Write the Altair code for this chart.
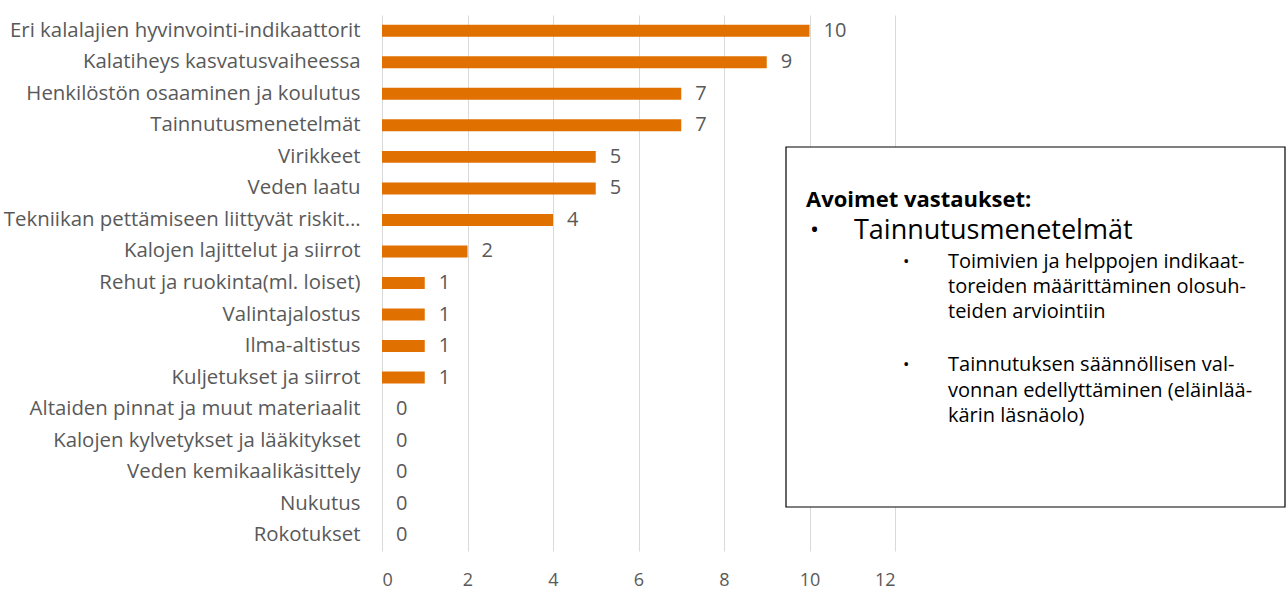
import altair as alt
import pandas as pd

SP = "\u00a0"
categories = [
    "Eri kalalajien hyvinvointi-indikaattorit",
    "Kalatiheys kasvatusvaiheessa",
    "Henkilöstön osaaminen ja koulutus",
    "Tainnutusmenetelmät",
    "Virikkeet" + SP,
    "Veden laatu",
    "Tekniikan pettämiseen liittyvät riskit…",
    "Kalojen lajittelut ja siirrot",
    "Rehut ja ruokinta(ml. loiset)",
    "Valintajalostus" + SP,
    "Ilma-altistus" + SP,
    "Kuljetukset ja siirrot",
    "Altaiden pinnat ja muut materiaalit",
    "Kalojen kylvetykset ja lääkitykset",
    "Veden kemikaalikäsittely",
    "Nukutus" + SP,
    "Rokotukset" + SP + SP,
]
values = [10, 9, 7, 7, 5, 5, 4, 2, 1, 1, 1, 1, 0, 0, 0, 0, 0]
x_ticks = [0, 2, 4, 6, 8, 10, 12]

# (text, x offset from box left, page y, font size, weight)
box_lines = [
    ("Avoimet vastaukset:", 20, 200, 22, "bold"),
    ("•", 24, 231, 24, "normal"),
    ("Tainnutusmenetelmät", 68, 231, 27, "normal"),
    ("•", 117, 262, 17, "normal"),
    ("Toimivien ja helppojen indikaat-", 162, 262, 20, "normal"),
    ("toreiden määrittäminen olosuh-", 162, 287, 20, "normal"),
    ("teiden arviointiin", 162, 312, 20, "normal"),
    ("•", 117, 365, 17, "normal"),
    ("Tainnutuksen säännöllisen val-", 162, 365, 20, "normal"),
    ("vonnan edellyttäminen (eläinlää-", 162, 391, 20, "normal"),
    ("kärin läsnäolo)", 162, 416, 20, "normal"),
]

df = pd.DataFrame({"cat": categories, "val": values})

FONT = "Open Sans"
W, H = 513, 536
LEFT, TOP = 382, 15
BOX_L, BOX_T, BOX_R, BOX_B = 786, 147, 1285, 507

y_enc = alt.Y("cat:N", sort=categories, title=None,
              scale=alt.Scale(paddingInner=0.62, paddingOuter=0.31),
              axis=alt.Axis(labelFont=FONT, labelFontSize=20.4, labelColor="#595959",
                            labelLimit=400, labelPadding=22, ticks=False, domain=False))
x_enc = alt.X("val:Q", title=None,
              scale=alt.Scale(domain=[0, 12], nice=False),
              axis=alt.Axis(values=x_ticks, labelFont=FONT, labelFontSize=18,
                            labelColor="#595959", labelPadding=20, ticks=False,
                            domain=False, grid=True, gridColor="#d9d9d9", gridWidth=1))

bars = alt.Chart(df).mark_bar(color="#E07000").encode(x=x_enc, y=y_enc)
labels = alt.Chart(df).mark_text(align="left", baseline="middle", dx=14, font=FONT,
                                 fontSize=20, color="#595959").encode(
    x="val:Q", y=alt.Y("cat:N", sort=categories), text="val:Q")

box = alt.Chart(pd.DataFrame({"a": [0]})).mark_rect(
    fill="white", stroke="#000000", strokeWidth=1.2, clip=False).encode(
    x=alt.value(BOX_L - LEFT), x2=alt.value(BOX_R - LEFT),
    y=alt.value(BOX_T - TOP), y2=alt.value(BOX_B - TOP))

txt_layers = []
for t, ax, ay, fs, fw in box_lines:
    txt_layers.append(
        alt.Chart(pd.DataFrame({"t": [t]})).mark_text(
            align="left", baseline="middle", font=FONT, fontSize=fs, fontWeight=fw,
            color="#000000", clip=False).encode(
            x=alt.value(BOX_L + ax - LEFT), y=alt.value(ay - TOP),
            text="t:N")
    )

chart = alt.layer(bars, labels, box, *txt_layers).properties(
    width=W, height=H,
    padding={"left": LEFT, "top": TOP, "right": 1288 - LEFT - W, "bottom": 590 - TOP - H},
    autosize=alt.AutoSizeParams(type="none"),
    background="white",
).configure_view(stroke=None)

chart.save("out.html", embed_options={"renderer": "svg", "actions": False})
